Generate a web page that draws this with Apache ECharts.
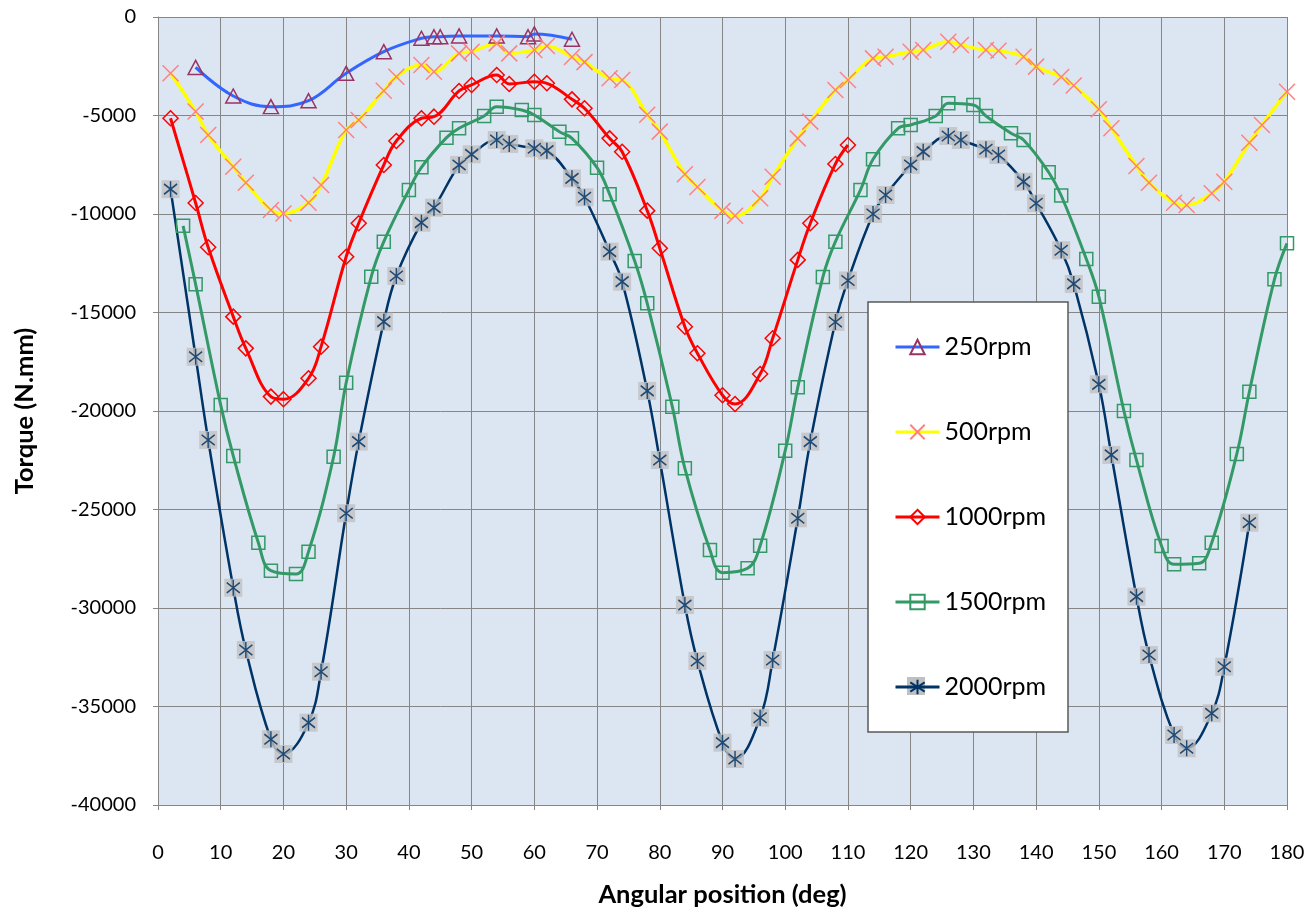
<!DOCTYPE html>
<html>
<head>
<meta charset="utf-8">
<script src="https://cdn.jsdelivr.net/npm/echarts@6/dist/echarts.min.js"></script>
<style>html,body{margin:0;padding:0;background:#fff;}#c{width:1313px;height:913px;}</style>
</head>
<body>
<div id="c"></div>
<script>
const xTicks = [0,10,20,30,40,50,60,70,80,90,100,110,120,130,140,150,160,170,180];
const yTicks = [0,-5000,-10000,-15000,-20000,-25000,-30000,-35000,-40000];
const seriesNames = ['250rpm','500rpm','1000rpm','1500rpm','2000rpm'];

const x250 = [6,12,18,24,30,36,42,44,45,48,54,59,60,66];
const y250 = [-2560,-4010,-4550,-4250,-2860,-1760,-1080,-1000,-1000,-960,-960,-1000,-860,-1130];

const x500 = [2,6,8,12,14,18,20,24,26,30,32,36,38,42,44,48,50,54,56,60,62,66,68,72,74,78,80,84,86,90,92,96,98,102,104,108,110,114,116,120,122,126,128,132,134,138,140,144,146,150,152,156,158,162,164,168,170,174,176,180];
const y500 = [-2860,-4800,-5990,-7600,-8410,-9800,-9970,-9425,-8530,-5735,-5230,-3740,-3030,-2440,-2775,-1845,-1760,-1340,-1845,-1675,-1470,-2030,-2290,-3110,-3200,-4960,-5820,-7980,-8630,-9840,-10090,-9205,-8105,-6160,-5310,-3705,-3200,-2100,-2015,-1760,-1675,-1255,-1420,-1675,-1710,-2015,-2520,-3050,-3475,-4685,-5650,-7560,-8410,-9425,-9545,-8950,-8360,-6380,-5480,-3790];

const x1000 = [2,6,8,12,14,18,20,24,26,30,32,36,38,42,44,48,50,54,56,60,62,66,68,72,74,78,80,84,86,90,92,96,98,102,104,108,110];
const y1000 = [-5140,-9440,-11690,-15210,-16820,-19270,-19400,-18340,-16735,-12170,-10470,-7510,-6295,-5140,-5060,-3755,-3450,-2945,-3400,-3285,-3365,-4180,-4635,-6160,-6840,-9830,-11740,-15720,-17070,-19200,-19645,-18120,-16310,-12330,-10470,-7460,-6500];

const x1500 = [4,6,10,12,16,18,22,24,28,30,34,36,40,42,46,48,52,54,58,60,64,66,70,72,76,78,82,84,88,90,94,96,100,102,106,108,112,114,118,120,124,126,130,132,136,138,142,144,148,150,154,156,160,162,166,168,172,174,178,180];
const y1500 = [-10600,-13570,-19700,-22280,-26685,-28105,-28275,-27140,-22320,-18565,-13180,-11405,-8780,-7630,-6125,-5650,-5025,-4550,-4720,-4975,-5820,-6160,-7650,-9000,-12385,-14535,-19780,-22910,-27055,-28205,-27985,-26840,-22015,-18800,-13200,-11405,-8780,-7225,-5650,-5480,-5025,-4380,-4465,-5025,-5905,-6245,-7880,-9060,-12285,-14195,-20000,-22490,-26850,-27780,-27730,-26685,-22180,-19020,-13315,-11490];

const x2000 = [2,6,8,12,14,18,20,24,26,30,32,36,38,42,44,48,50,54,56,60,62,66,68,72,74,78,80,84,86,90,92,96,98,102,104,108,110,114,116,120,122,126,128,132,134,138,140,144,146,150,152,156,158,162,164,168,170,174];
const y2000 = [-8740,-17245,-21470,-28970,-32130,-36665,-37410,-35820,-33235,-25190,-21555,-15465,-13145,-10440,-9680,-7510,-6970,-6245,-6445,-6665,-6785,-8190,-9150,-11910,-13435,-18980,-22490,-29850,-32690,-36835,-37665,-35570,-32640,-25445,-21555,-15480,-13375,-10000,-9035,-7510,-6835,-6040,-6245,-6715,-7005,-8360,-9455,-11840,-13550,-18645,-22230,-29425,-32385,-36445,-37120,-35345,-32980,-25670];

const zip = (xs, ys) => xs.map((x, i) => [x, ys[i]]);
const FONT = 'Lato';
const NONE = 'rgba(0,0,0,0)';
const XMARK = 'path://M0,0L10,10M10,0L0,10';
const ASTER = 'path://M4,0L4,10M0,1.8L8,8.2M0,8.2L8,1.8';
const SMOOTH = 0.4;

const chart = echarts.init(document.getElementById('c'), null, {renderer: 'canvas'});
const option = {
  animation: false,
  backgroundColor: '#ffffff',
  textStyle: {fontFamily: FONT, color: '#000'},
  grid: {left: 158, top: 17, width: 1129, height: 788, show: true, backgroundColor: '#DCE6F2', borderWidth: 0},
  xAxis: {
    type: 'value', min: 0, max: 180, interval: 10,
    name: 'Angular position (deg)', nameLocation: 'middle', nameGap: 77,
    nameTextStyle: {fontFamily: FONT, fontSize: 25.5, fontWeight: 'bold', color: '#000'},
    axisLine: {show: true, onZero: false, lineStyle: {color: '#868686', width: 1}},
    axisTick: {show: true, length: 5, lineStyle: {color: '#868686'}},
    axisLabel: {margin: 38, fontSize: 20, color: '#000', fontFamily: FONT,
      formatter: v => xTicks.includes(v) ? String(v) : ''},
    splitLine: {show: true, lineStyle: {color: '#868686', width: 1}}
  },
  yAxis: {
    type: 'value', min: -40000, max: 0, interval: 5000,
    name: 'Torque (N.mm)', nameLocation: 'middle', nameGap: 120, nameRotate: 90,
    nameTextStyle: {fontFamily: FONT, fontSize: 25.5, fontWeight: 'bold', color: '#000'},
    axisLine: {show: true, onZero: false, lineStyle: {color: '#868686', width: 1}},
    axisTick: {show: true, length: 5, lineStyle: {color: '#868686'}},
    axisLabel: {margin: 22, fontSize: 20, color: '#000', fontFamily: FONT,
      formatter: v => yTicks.includes(v) ? String(v) : ''},
    splitLine: {show: true, lineStyle: {color: '#868686', width: 1}}
  },
  legend: {
    orient: 'vertical', left: 894, top: 332, padding: 0, itemGap: 55,
    itemWidth: 44, itemHeight: 18, z: 10,
    data: seriesNames,
    lineStyle: {width: 3},
    textStyle: {fontFamily: FONT, fontSize: 25, lineHeight: 30, color: '#000'}
  },
  graphic: [
    {type: 'rect', z: 5, shape: {x: 868, y: 302, width: 200, height: 430},
     style: {fill: '#fff', stroke: '#595959', lineWidth: 1.5}},
    {type: 'rect', z: 6, shape: {x: 907, y: 677, width: 18, height: 18},
     style: {fill: '#C0C0C0'}}
  ],
  series: [
    {name: seriesNames[0], type: 'line', data: zip(x250, y250), smooth: SMOOTH,
     symbol: 'triangle', symbolSize: [15, 14],
     lineStyle: {color: '#3366FF', width: 3},
     itemStyle: {color: NONE, borderColor: '#993366', borderWidth: 1.5}, z: 2},
    {name: seriesNames[1], type: 'line', data: zip(x500, y500), smooth: SMOOTH,
     symbol: XMARK, symbolSize: 16,
     lineStyle: {color: '#FFFF00', width: 3.5},
     itemStyle: {color: NONE, borderColor: '#FF8080', borderWidth: 1.5}, z: 2},
    {name: seriesNames[2], type: 'line', data: zip(x1000, y1000), smooth: SMOOTH,
     symbol: 'diamond', symbolSize: 15,
     lineStyle: {color: '#FF0000', width: 3},
     itemStyle: {color: NONE, borderColor: '#FF0000', borderWidth: 1.5}, z: 2},
    {name: seriesNames[3], type: 'line', data: zip(x1500, y1500), smooth: SMOOTH,
     symbol: 'rect', symbolSize: 13,
     lineStyle: {color: '#339966', width: 3},
     itemStyle: {color: NONE, borderColor: '#339966', borderWidth: 1.5}, z: 2},
    {name: seriesNames[4], type: 'line', data: zip(x2000, y2000), smooth: SMOOTH,
     symbol: ASTER, symbolSize: [13, 16],
     lineStyle: {color: '#003366', width: 2.5},
     itemStyle: {color: NONE, borderColor: '#003366', borderWidth: 1.5}, z: 2},
    {name: '2000bg', type: 'scatter', data: zip(x2000, y2000),
     symbol: 'rect', symbolSize: 18, itemStyle: {color: '#C0C0C0'}, z: 3, silent: true},
    {name: '2000fg', type: 'scatter', data: zip(x2000, y2000),
     symbol: ASTER, symbolSize: [13, 16],
     itemStyle: {color: NONE, borderColor: '#003366', borderWidth: 1.5}, z: 4, silent: true}
  ]
};
chart.setOption(option);
</script>
</body>
</html>
